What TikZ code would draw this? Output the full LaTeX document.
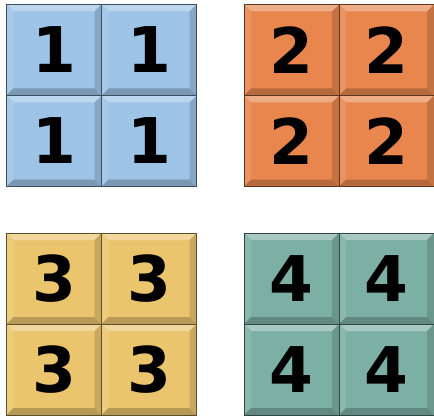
\documentclass[tikz,border=0pt]{standalone}
\usepackage{fontspec}
\newfontfamily\digitfont{DejaVu Sans}[BoldFont={DejaVu Sans Bold}]
\definecolor{cblue}{RGB}{157,195,230}
\definecolor{corange}{RGB}{232,134,78}
\definecolor{cgold}{RGB}{235,197,110}
\definecolor{cteal}{RGB}{125,176,165}
\tikzset{
  tilebox/.style={draw=#1!45!black, line width=0.8pt, fill=#1, minimum width=95pt, minimum height=91pt,
    inner sep=0pt, outer sep=0pt, anchor=north west,
    font=\digitfont\bfseries\fontsize{63}{63}\selectfont, text=black},
}
\newcommand\bevtile[5]{% name, x, ytop, color, digit
  \node[tilebox=#4] (#1) at (#2,416-#3) {\raisebox{-4pt}{#5}};
  \fill[#4!68!white] (#1.north west) -- (#1.north east) -- ([shift={(-7pt,-7pt)}]#1.north east) -- ([shift={(7pt,-7pt)}]#1.north west) -- cycle;
  \fill[#4!90!white] (#1.north west) -- ([shift={(7pt,-7pt)}]#1.north west) -- ([shift={(7pt,7pt)}]#1.south west) -- (#1.south west) -- cycle;
  \fill[#4!78!black] (#1.south west) -- ([shift={(7pt,7pt)}]#1.south west) -- ([shift={(-7pt,7pt)}]#1.south east) -- (#1.south east) -- cycle;
  \fill[#4!85!black] (#1.north east) -- ([shift={(-7pt,-7pt)}]#1.north east) -- ([shift={(-7pt,7pt)}]#1.south east) -- (#1.south east) -- cycle;
  \draw[#4!40!black, line width=0.9pt] (#1.north west) rectangle (#1.south east);
}
\begin{document}
\begin{tikzpicture}[x=1pt,y=1pt]
\useasboundingbox[fill=white] (0,0) rectangle (434,416);
% group 1
\bevtile{a1}{6.5}{4.5}{cblue}{1}
\bevtile{a2}{101.5}{4.5}{cblue}{1}
\bevtile{a3}{6.5}{95.5}{cblue}{1}
\bevtile{a4}{101.5}{95.5}{cblue}{1}
% group 2
\bevtile{b1}{244}{4.5}{corange}{2}
\bevtile{b2}{339}{4.5}{corange}{2}
\bevtile{b3}{244}{95.5}{corange}{2}
\bevtile{b4}{339}{95.5}{corange}{2}
% group 3
\bevtile{c1}{6.5}{233}{cgold}{3}
\bevtile{c2}{101.5}{233}{cgold}{3}
\bevtile{c3}{6.5}{324}{cgold}{3}
\bevtile{c4}{101.5}{324}{cgold}{3}
% group 4
\bevtile{d1}{244}{233}{cteal}{4}
\bevtile{d2}{339}{233}{cteal}{4}
\bevtile{d3}{244}{324}{cteal}{4}
\bevtile{d4}{339}{324}{cteal}{4}
\end{tikzpicture}
\end{document}
